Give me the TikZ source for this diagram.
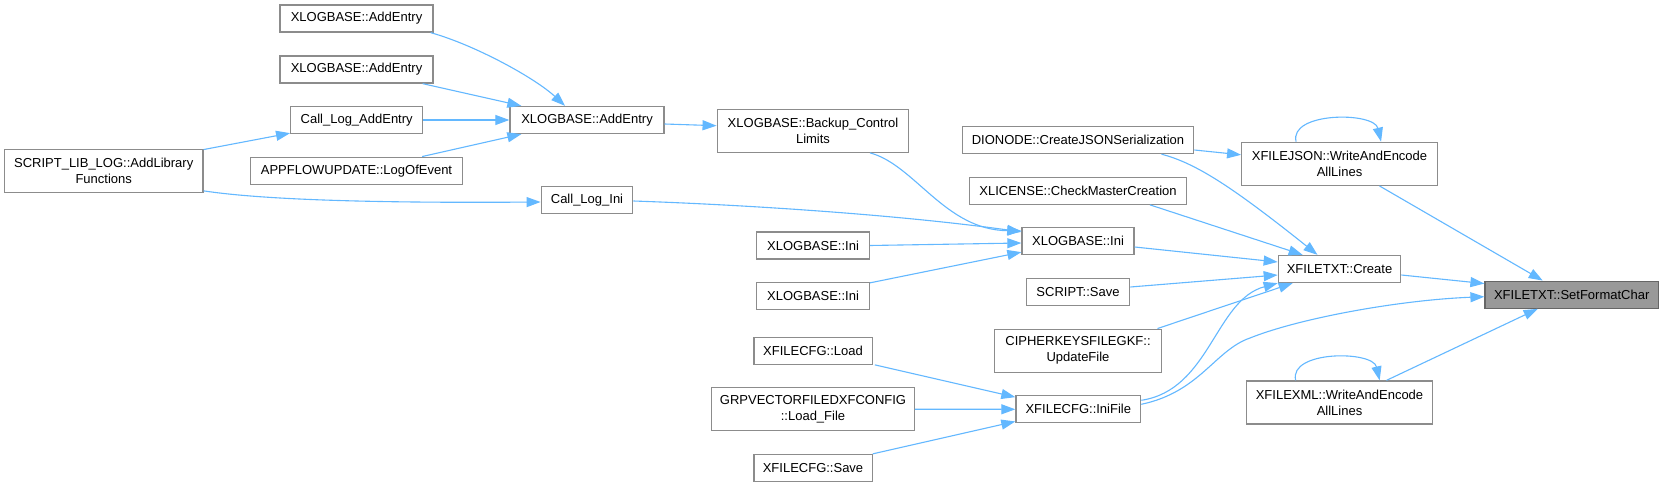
\documentclass[tikz,border=0pt]{standalone}
\usepackage{fontspec}
\setmainfont{Liberation Sans}
\usetikzlibrary{arrows.meta,calc}
\definecolor{edgeblue}{HTML}{63B8FF}
\definecolor{boxgray}{HTML}{8C8C8C}
\definecolor{hlfill}{HTML}{999999}
\definecolor{hlborder}{HTML}{666666}
\tikzset{
  box/.style={draw=boxgray, line width=1.3pt, fill=white, inner sep=0pt, align=center,
    font=\fontsize{13}{16}\selectfont, text=black},
  hl/.style={box, draw=hlborder, fill=hlfill},
  edge/.style={draw=edgeblue, line width=1.1pt, -{Triangle[length=14pt,width=10pt]}}
}
\begin{document}
\begin{tikzpicture}[x=1pt,y=-1pt]
\fill[white] (0,0) rectangle (1663,487);
\useasboundingbox (0,0) rectangle (1663,487);
% nodes
\node[box, minimum width=153pt, minimum height=27pt] (a1) at (356.5,18.5) {XLOGBASE::AddEntry};
\node[box, minimum width=153pt, minimum height=27pt] (a2) at (356.5,69.5) {XLOGBASE::AddEntry};
\node[box, minimum width=132pt, minimum height=27pt] (cla) at (356.7,120) {Call\_Log\_AddEntry};
\node[box, minimum width=212pt, minimum height=27pt] (app) at (356.5,170.7) {APPFLOWUPDATE::LogOfEvent};
\node[box, minimum width=154pt, minimum height=27pt] (a0) at (587,120) {XLOGBASE::AddEntry};
\node[box, minimum width=198.5pt, minimum height=43pt] (slib) at (103.7,170.7) {SCRIPT\_LIB\_LOG::AddLibrary\\Functions};
\node[box, minimum width=91.5pt, minimum height=27pt] (cli) at (587,200) {Call\_Log\_Ini};
\node[box, minimum width=191.6pt, minimum height=43pt] (bk) at (813,130.7) {XLOGBASE::Backup\_Control\\Limits};
\node[box, minimum width=231.5pt, minimum height=27pt] (dio) at (1078,140) {DIONODE::CreateJSONSerialization};
\node[box, minimum width=216.5pt, minimum height=27pt] (lic) at (1078,190.7) {XLICENSE::CheckMasterCreation};
\node[box, minimum width=112pt, minimum height=27pt] (ini) at (1078,241) {XLOGBASE::Ini};
\node[box, minimum width=112.7pt, minimum height=27pt] (ini2) at (813,245.5) {XLOGBASE::Ini};
\node[box, minimum width=112.7pt, minimum height=27pt] (ini3) at (813,296) {XLOGBASE::Ini};
\node[box, minimum width=103.4pt, minimum height=27pt] (ssave) at (1078,292) {SCRIPT::Save};
\node[box, minimum width=167.6pt, minimum height=43pt] (ciph) at (1078,350.7) {CIPHERKEYSFILEGKF::\\UpdateFile};
\node[box, minimum width=118.3pt, minimum height=27pt] (cload) at (813,350.7) {XFILECFG::Load};
\node[box, minimum width=202.4pt, minimum height=43pt] (grp) at (813,409.2) {GRPVECTORFILEDXFCONFIG\\::Load\_File};
\node[box, minimum width=124.7pt, minimum height=27pt] (inif) at (1078.3,409.3) {XFILECFG::IniFile};
\node[box, minimum width=118.3pt, minimum height=27pt] (csave) at (813,468) {XFILECFG::Save};
\node[box, minimum width=195.6pt, minimum height=43pt] (json) at (1339.5,163.8) {XFILEJSON::WriteAndEncode\\AllLines};
\node[box, minimum width=122.4pt, minimum height=27pt] (create) at (1339.5,269) {XFILETXT::Create};
\node[hl, minimum width=173.3pt, minimum height=27pt] (set) at (1571.7,294.7) {XFILETXT::SetFormatChar};
\node[box, minimum width=186.4pt, minimum height=43pt] (xml) at (1339.5,402.5) {XFILEXML::WriteAndEncode\\AllLines};
% edges
\draw[edge] ($(a1.south east)+(-3,0)$) .. controls (475,45) and (535,78) .. ($(a0.north)+(-22,0)$);
\draw[edge] ($(a2.south east)+(-11,0)$) -- ($(a0.north west)+(12,0)$);
\draw[edge] (cla.east) -- (a0.west);
\draw[edge] ($(app.north east)+(-41,0)$) -- ($(a0.south west)+(12,0)$);
\draw[edge] ($(slib.north east)+(0,1)$) -- ($(cla.south west)+(0,-1)$);
\draw[edge] ($(slib.south east)+(0,-2)$) .. controls (270,201) and (400,203) .. ($(cli.west)+(0,2)$);
\draw[edge] ($(a0.east)+(0,4)$) -- ($(bk.west)+(0,-5)$);
\draw[edge] ($(bk.south)+(57,0)$) .. controls (915,165) and (945,230) .. ($(ini.north west)+(0,4)$);
\draw[edge] ($(cli.east)+(0,1)$) .. controls (750,205) and (900,215) .. ($(ini.north west)+(0,5)$);
\draw[edge] (ini2.east) -- ($(ini.west)+(0,2)$);
\draw[edge] ($(ini3.north east)+(0,1)$) -- ($(ini.south west)+(0,-3)$);
\draw[edge] ($(ini.east)+(0,6)$) -- ($(create.west)+(0,-7)$);
\draw[edge] ($(ssave.east)+(0,-5)$) -- ($(create.west)+(0,6)$);
\draw[edge] ($(ciph.north east)+(-5,0)$) -- ($(create.south west)+(15,0)$);
\draw[edge] ($(inif.east)+(0,-9)$) .. controls (1210,390) and (1215,300) .. (create.south west);
\draw[edge] ($(inif.east)+(0,-5)$) .. controls (1200,392) and (1215,350) .. (1250,338) .. controls (1300,318) and (1400,300) .. ($(set.west)+(0,2)$);
\draw[edge] ($(create.east)+(0,6)$) -- ($(set.north west)+(0,3)$);
\draw[edge] ($(json.south)+(40,0)$) -- ($(set.north)+(-29,0)$);
\draw[edge] ($(xml.north)+(47,0)$) -- ($(set.south)+(-34,0)$);
\draw[edge] ($(dio.east)+(0,10)$) -- ($(json.west)+(0,-9)$);
\draw[edge] ($(dio.south east)+(-33,0)$) .. controls (1195,163) and (1230,185) .. ($(create.north)+(-22,0)$);
\draw[edge] ($(lic.south east)+(-37,0)$) -- ($(create.north west)+(25,0)$);
\draw[edge] ($(cload.south east)+(2,0)$) -- ($(inif.north west)+(0,2)$);
\draw[edge] (grp.east) -- (inif.west);
\draw[edge] (csave.north east) -- ($(inif.south west)+(0,-2)$);
\draw[edge] ($(json.north west)+(55,0)$) .. controls +(-7,-30) and +(-7,-30) .. ($(json.north west)+(140,0)$);
\draw[edge] ($(xml.north west)+(50,0)$) .. controls +(-7,-30) and +(-7,-30) .. ($(xml.north west)+(134,0)$);
\end{tikzpicture}
\end{document}
